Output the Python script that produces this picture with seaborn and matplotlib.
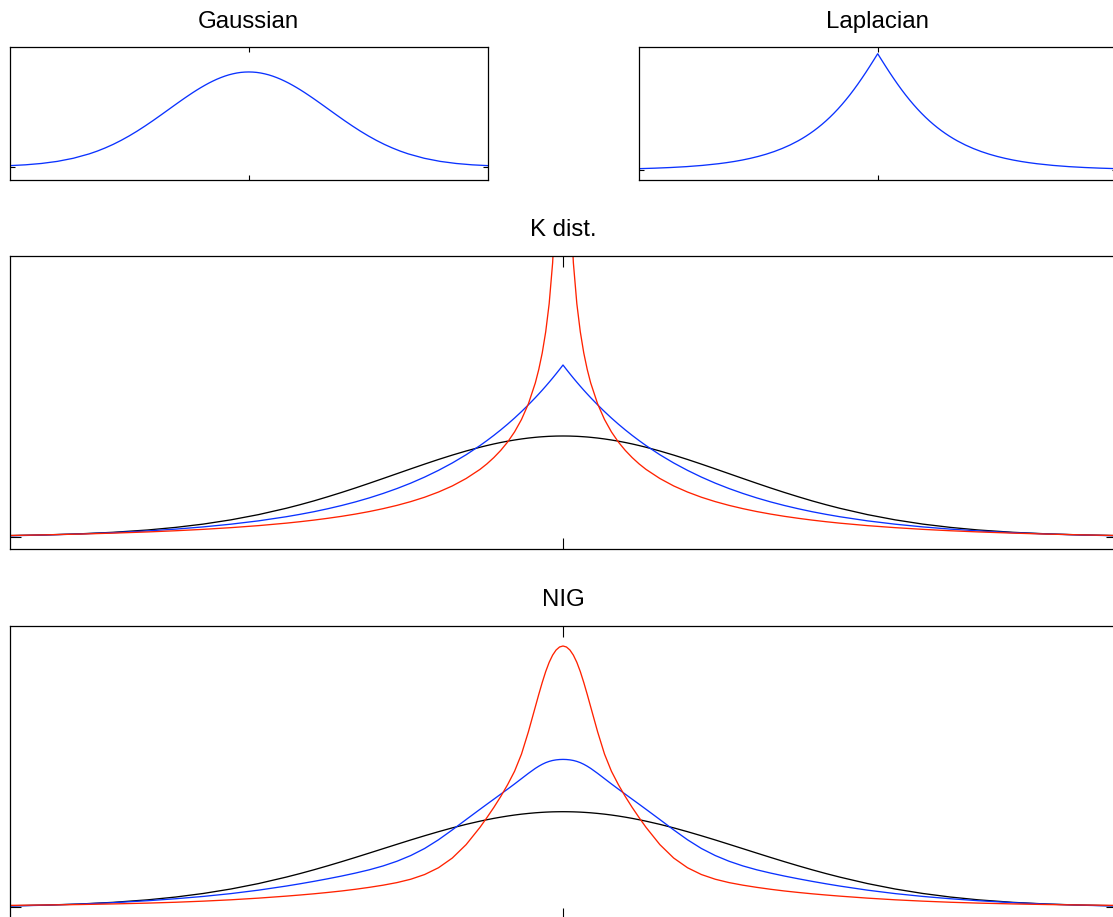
import numpy as np
import pandas as pd
import matplotlib
matplotlib.use("Agg")
import matplotlib.pyplot as plt
import seaborn as sns

# ---------------------------------------------------------------------------
# Tabulated densities (right half, x >= 0); every curve is symmetric in x.
# ---------------------------------------------------------------------------

# top row: x in [-3, 3]
top_x = [0.00, 0.05, 0.10, 0.15, 0.20, 0.25, 0.30, 0.35, 0.40, 0.45, 0.50,
         0.55, 0.60, 0.65, 0.70, 0.75, 0.80, 0.85, 0.90, 0.95, 1.00,
         1.1, 1.2, 1.3, 1.4, 1.5, 1.6, 1.7, 1.8, 1.9, 2.0,
         2.2, 2.4, 2.6, 2.8, 3.0]
gauss_y = [0.3989, 0.3984, 0.3970, 0.3945, 0.3910, 0.3867, 0.3814, 0.3752,
           0.3683, 0.3605, 0.3521, 0.3429, 0.3332, 0.3230, 0.3123, 0.3011,
           0.2897, 0.2780, 0.2661, 0.2541, 0.2420,
           0.2179, 0.1942, 0.1714, 0.1497, 0.1295, 0.1109, 0.0940, 0.0790,
           0.0656, 0.0540,
           0.0355, 0.0224, 0.0136, 0.0079, 0.0044]
laplace_y = [0.7090, 0.6702, 0.6319, 0.5944, 0.5582, 0.5232, 0.4897, 0.4577,
             0.4274, 0.3986, 0.3714, 0.3458, 0.3217, 0.2991, 0.2780, 0.2582,
             0.2397, 0.2225, 0.2064, 0.1914, 0.1775,
             0.1525, 0.1310, 0.1124, 0.0964, 0.0827, 0.0709, 0.0607, 0.0520,
             0.0446, 0.0382,
             0.0280, 0.0205, 0.0151, 0.0111, 0.0081]

# lower panels: x in [-4, 4]
tail_x = [0.000, 0.025, 0.050, 0.075, 0.100, 0.125, 0.150, 0.175, 0.200,
          0.25, 0.30, 0.35, 0.40, 0.45, 0.50, 0.55, 0.60,
          0.7, 0.8, 0.9, 1.0, 1.1, 1.2, 1.3, 1.4, 1.5, 1.6, 1.7, 1.8, 1.9,
          2.0, 2.2, 2.4, 2.6, 2.8, 3.0, 3.25, 3.5, 3.75, 4.0]

# K distribution, three shape parameters
k_black = [0.4028, 0.4027, 0.4025, 0.4020, 0.4015, 0.4007, 0.3998, 0.3988,
           0.3975, 0.3946, 0.3910, 0.3868, 0.3821, 0.3768, 0.3710, 0.3646,
           0.3578, 0.3428, 0.3264, 0.3089, 0.2904, 0.2714, 0.2521, 0.2328,
           0.2137, 0.1950, 0.1770, 0.1598, 0.1433, 0.1280, 0.1137, 0.0884,
           0.0674, 0.0504, 0.0372, 0.0269, 0.0176, 0.0113, 0.0071, 0.0044]
k_blue = [0.6868, 0.6689, 0.6515, 0.6345, 0.6180, 0.6019, 0.5862, 0.5710,
          0.5561, 0.5276, 0.5004, 0.4747, 0.4503, 0.4272, 0.4052, 0.3844,
          0.3645, 0.3278, 0.2949, 0.2653, 0.2385, 0.2143, 0.1926, 0.1730,
          0.1552, 0.1392, 0.1248, 0.1118, 0.1000, 0.0895, 0.0799, 0.0634,
          0.0501, 0.0392, 0.0303, 0.0232, 0.0161, 0.0108, 0.0067, 0.0037]
k_red = [6.0000, 1.9624, 1.3652, 1.0952, 0.9320, 0.8196, 0.7352, 0.6692,
         0.6152, 0.5316, 0.4688, 0.4192, 0.3788, 0.3452, 0.3164, 0.2912,
         0.2692, 0.2328, 0.2030, 0.1786, 0.1579, 0.1404, 0.1253, 0.1122,
         0.1006, 0.0905, 0.0815, 0.0736, 0.0664, 0.0600, 0.0542, 0.0443,
         0.0362, 0.0294, 0.0238, 0.0191, 0.0143, 0.0104, 0.0073, 0.0047]

# normal inverse Gaussian, three shape parameters
nig_black = [0.3800, 0.3799, 0.3797, 0.3794, 0.3789, 0.3783, 0.3775, 0.3766,
             0.3756, 0.3731, 0.3702, 0.3667, 0.3627, 0.3582, 0.3533, 0.3479,
             0.3421, 0.3294, 0.3153, 0.3000, 0.2838, 0.2670, 0.2496, 0.2321,
             0.2145, 0.1971, 0.1801, 0.1636, 0.1477, 0.1326, 0.1184, 0.0926,
             0.0708, 0.0529, 0.0386, 0.0275, 0.0174, 0.0106, 0.0063, 0.0036]
nig_blue = [0.5892, 0.5887, 0.5873, 0.5849, 0.5812, 0.5762, 0.5697, 0.5620,
            0.5533, 0.5334, 0.5122, 0.4910, 0.4704, 0.4502, 0.4300, 0.4099,
            0.3896, 0.3486, 0.3072, 0.2676, 0.2329, 0.2047, 0.1818, 0.1631,
            0.1476, 0.1345, 0.1226, 0.1117, 0.1014, 0.0917, 0.0826, 0.0662,
            0.0524, 0.0411, 0.0318, 0.0240, 0.0162, 0.0102, 0.0059, 0.0027]
nig_red = [1.0428, 1.0388, 1.0267, 1.0062, 0.9775, 0.9406, 0.8970, 0.8494,
           0.7995, 0.6999, 0.6105, 0.5418, 0.4884, 0.4408, 0.3970, 0.3563,
           0.3174, 0.2484, 0.1946, 0.1558, 0.1287, 0.1099, 0.0964, 0.0861,
           0.0774, 0.0697, 0.0629, 0.0570, 0.0516, 0.0468, 0.0423, 0.0343,
           0.0276, 0.0222, 0.0178, 0.0144, 0.0111, 0.0086, 0.0068, 0.0053]

BLACK, BLUE, RED = "#000000", "#0a32ff", "#ff2200"


def both_sides(x, y):
    """Mirror a half-curve tabulated on x >= 0 onto the full symmetric range."""
    x = np.asarray(x, float)
    y = np.asarray(y, float)
    return (np.concatenate([-x[:0:-1], x]),
            np.concatenate([y[:0:-1], y]))


sns.set_theme(style="white")
plt.rcParams["font.family"] = ["Liberation Sans", "DejaVu Sans"]

W, H = 1113, 917
fig = plt.figure(figsize=(W / 100, H / 100), dpi=100)
fig.patch.set_facecolor("white")


def px_rect(left, top, right, bottom):
    return [left / W, 1 - bottom / H, (right - left) / W, (bottom - top) / H]


def panel(rect, title, x_half, curves, xlim, ylim, tick_len):
    ax = fig.add_axes(rect)
    for y_half, color in curves:
        xs, ys = both_sides(x_half, y_half)
        df = pd.DataFrame({"x": xs, "y": ys})
        sns.lineplot(data=df, x="x", y="y", color=color, linewidth=0.95,
                     sort=False, estimator=None, ax=ax)
    ax.set_xlim(*xlim)
    ax.set_ylim(*ylim)
    ax.set_xticks([0])
    ax.set_yticks([0])
    ax.set_xticklabels([])
    ax.set_yticklabels([])
    ax.set_xlabel("")
    ax.set_ylabel("")
    # tick length scales with the panel width
    ax.tick_params(direction="in", length=tick_len, width=0.8, color="black",
                   top=True, right=True, bottom=True, left=True)
    for sp in ax.spines.values():
        sp.set_visible(True)
        sp.set_color("black")
        sp.set_linewidth(0.9)
    ax.set_facecolor("white")
    ax.set_title(title, fontsize=17.3, color="black", pad=14)
    return ax


panel(px_rect(9.5, 47, 488, 180), "Gaussian", top_x,
      [(gauss_y, BLUE)], (-3, 3), (-0.056, 0.504), 3.4)
panel(px_rect(638.7, 47, 1116.7, 180), "Laplacian", top_x,
      [(laplace_y, BLUE)], (-3, 3), (-0.061, 0.750), 3.4)
panel(px_rect(9.5, 255.7, 1116.5, 549.3), "K dist.", tail_x,
      [(k_black, BLACK), (k_blue, BLUE), (k_red, RED)],
      (-4, 4), (-0.0504, 1.124), 7.6)
panel(px_rect(9.5, 625.7, 1116.5, 919.3), "NIG", tail_x,
      [(nig_black, BLACK), (nig_blue, BLUE), (nig_red, RED)],
      (-4, 4), (-0.0504, 1.124), 7.6)

fig.savefig("out.png", dpi=100, facecolor="white")
